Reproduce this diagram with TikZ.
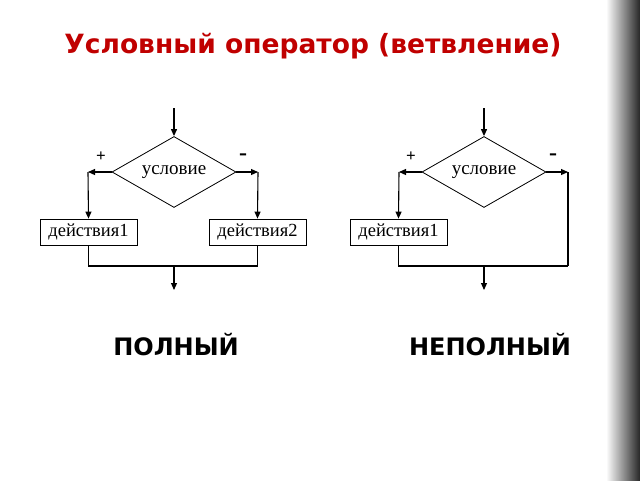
\documentclass[tikz,border=0pt]{standalone}
\usepackage{fontspec}
\setmainfont{Liberation Serif}
\newfontfamily\headfont{DejaVu Sans}
\usetikzlibrary{shapes.geometric,arrows.meta,positioning}
\definecolor{titlered}{RGB}{192,0,0}
\tikzset{
  flow/.style={line width=1.1pt,black},
  tip/.style={flow,-{Triangle[length=7pt,width=6pt]}},
  cond/.style={diamond,draw,line width=0.8pt,aspect=1.75,minimum width=124pt,minimum height=71pt,inner sep=0pt,font=\fontsize{19}{19}\selectfont},
  act/.style={rectangle,draw,line width=0.8pt,minimum width=97pt,minimum height=26pt,inner sep=0pt,font=\fontsize{18.5}{18.5}\selectfont},
  sign/.style={font=\bfseries\fontsize{17}{17}\selectfont},
  kind/.style={font=\headfont\bfseries\fontsize{24}{24}\selectfont}
}
\begin{document}
\begin{tikzpicture}[x=1pt,y=-1pt]
    \useasboundingbox (0,0) rectangle (640,480);
    %Borde derecho
    \shade[left color=white,right color=black!85] (606,0) rectangle (640,480);

    \node[font=\headfont\bfseries\fontsize{26.5}{26.5}\selectfont,text=titlered] (title) at (313,46) {Условный оператор (ветвление)};

    %Polnyj
    \coordinate (in1) at (174,108);
    \node[cond] (c1) at (174,172) {условие};
    \node[act] (a1) at (88.5,232) {действия1};
    \node[act] (a2) at (257.5,232) {действия2};
    \coordinate (l1) at (88,172);
    \coordinate (r1) at (258,172);
    \coordinate (m1) at (174,266);
    \coordinate (out1) at (174,290);
    \draw[tip] (in1) -- (c1.north);
    \draw[tip] (c1.west) -- (l1);
    \draw[tip] (l1) -- (a1.north);
    \draw[tip] (c1.east) -- (r1);
    \draw[tip] (r1) -- (a2.north);
    \draw[flow] (a1.south) |- (m1) -| (a2.south);
    \draw[tip] (m1) -- (out1);
    \node[sign] (p1) at (101,157) {+};
    \node[sign,font=\bfseries\fontsize{24}{24}\selectfont] (n1) at (243,157) {-};
    \node[kind] (k1) at (176,345) {ПОЛНЫЙ};

    %Nepolnyj
    \coordinate (in2) at (484,108);
    \node[cond] (c2) at (484,172) {условие};
    \node[act] (a3) at (398.5,232) {действия1};
    \coordinate (l2) at (399,172);
    \coordinate (r2) at (568,172);
    \coordinate (e2) at (568,266);
    \coordinate (m2) at (484,266);
    \coordinate (out2) at (484,290);
    \draw[tip] (in2) -- (c2.north);
    \draw[tip] (c2.west) -- (l2);
    \draw[tip] (l2) -- (a3.north);
    \draw[tip] (c2.east) -- (r2);
    \draw[flow] (r2) -- (e2);
    \draw[flow] (a3.south) |- (e2);
    \draw[tip] (m2) -- (out2);
    \node[sign] (p2) at (411,157) {+};
    \node[sign,font=\bfseries\fontsize{24}{24}\selectfont] (n2) at (553,157) {-};
    \node[kind] (k2) at (490,345) {НЕПОЛНЫЙ};
\end{tikzpicture}
\end{document}
